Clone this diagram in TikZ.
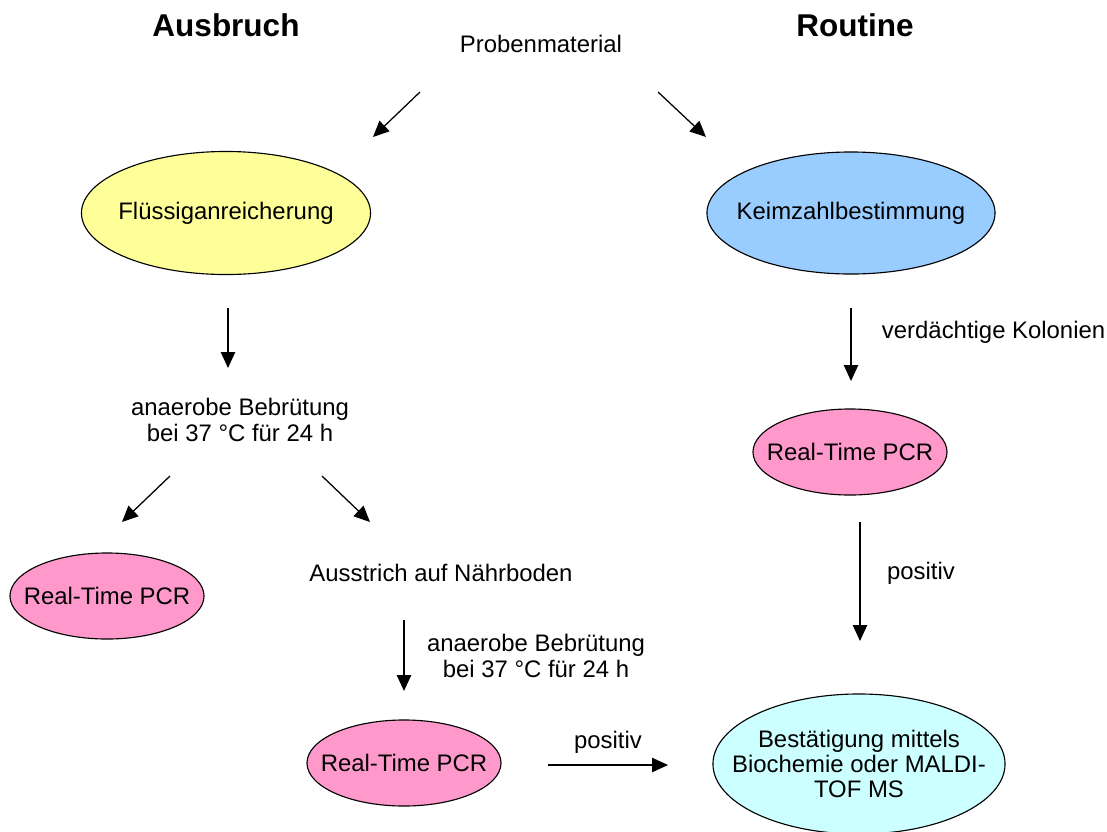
\documentclass[tikz,border=0pt]{standalone}
\usepackage{fontspec}
\setmainfont{Liberation Sans}
\usetikzlibrary{shapes.geometric,arrows.meta}

\definecolor{flyellow}{HTML}{FFFF99}
\definecolor{kzblue}{HTML}{99CCFF}
\definecolor{pcrpink}{HTML}{FF99CC}
\definecolor{bestcyan}{HTML}{CCFFFF}

\tikzset{
  lbl/.style={font=\fontsize{17}{18}\selectfont, align=center},
  blob/.style={ellipse, draw, line width=0.8pt, inner sep=0pt},
  pcr/.style={blob, fill=pcrpink, minimum width=4.85cm, minimum height=2.15cm,
    label={[lbl]center:Real-Time PCR}},
  head/.style={font=\fontsize{22.4}{26}\selectfont\bfseries},
  flow/.style={-{Triangle[length=0.4cm,width=0.36cm]}, line width=0.9pt},
}

\begin{document}
\begin{tikzpicture}[x=0.025cm, y=-0.025cm]
  \useasboundingbox (0,0) rectangle (1107,831);
  % headings and start
  \node[head] (ausbruch) at (226,25) {Ausbruch};
  \node[head] (routine) at (855,25) {Routine};
  \node[lbl] (probe) at (541,44) {Probenmaterial};
  % ellipses
  \node[blob, fill=flyellow, minimum width=7.225cm, minimum height=3.075cm,
    label={[lbl]center:Flüssiganreicherung}] (fluessig) at (226,213) {};
  \node[blob, fill=kzblue, minimum width=7.2cm, minimum height=3.05cm,
    label={[lbl]center:Keimzahlbestimmung}] (keimzahl) at (851,213) {};
  \node[pcr] (pcrR) at (850,452) {};
  \node[pcr] (pcrL) at (107,596) {};
  \node[pcr] (pcrB) at (404,763) {};
  \node[blob, fill=bestcyan, minimum width=7.3cm, minimum height=3.5cm,
    label={[lbl]center:{Bestätigung mittels\\Biochemie oder MALDI-\\TOF MS}}] (best) at (859,764) {};
  % plain labels
  \node[lbl] (anaerobA) at (240,420) {anaerobe Bebrütung\\bei 37 °C für 24 h};
  \node[lbl] (ausstrich) at (441,573) {Ausstrich auf Nährboden};
  \node[lbl] (anaerobB) at (536,656) {anaerobe Bebrütung\\bei 37 °C für 24 h};
  \node[lbl, anchor=west] (verdacht) at (877,332) {verdächtige Kolonien};
  \node[lbl] (posR) at (921,573) {positiv};
  \node[lbl] (posB) at (608,742) {positiv};
  % arrow ends
  \coordinate (p1) at (420,92);   \coordinate (p2) at (373,137);
  \coordinate (p3) at (658,92);   \coordinate (p4) at (706,137);
  \coordinate (f1) at (228,308);  \coordinate (f2) at (228,368);
  \coordinate (k1) at (851,308);  \coordinate (k2) at (851,381);
  \coordinate (a1) at (170,476);  \coordinate (a2) at (122,522);
  \coordinate (a3) at (322,476);  \coordinate (a4) at (370,522);
  \coordinate (s1) at (404,620);  \coordinate (s2) at (404,691);
  \coordinate (r1) at (860,522);  \coordinate (r2) at (860,641);
  \coordinate (b1) at (548,765);  \coordinate (b2) at (668,765);
  % arrows
  \draw[flow] (p1) -- (p2);
  \draw[flow] (p3) -- (p4);
  \draw[flow] (f1) -- (f2);
  \draw[flow] (k1) -- (k2);
  \draw[flow] (a1) -- (a2);
  \draw[flow] (a3) -- (a4);
  \draw[flow] (s1) -- (s2);
  \draw[flow] (r1) -- (r2);
  \draw[flow] (b1) -- (b2);
\end{tikzpicture}
\end{document}
